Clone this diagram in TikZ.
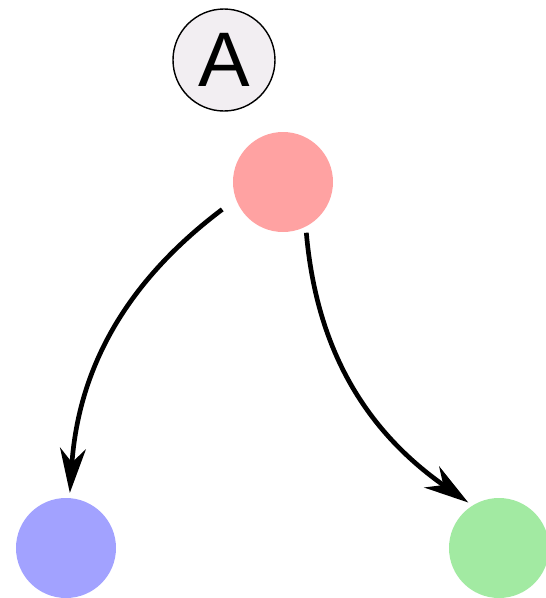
\documentclass[tikz,border=0pt]{standalone}
\usepackage{fontspec}
\setsansfont{Liberation Sans}
\usetikzlibrary{arrows.meta, positioning}

\definecolor{startred}{RGB}{255,162,162}
\definecolor{leftblue}{RGB}{162,162,255}
\definecolor{rightgreen}{RGB}{162,234,162}
\definecolor{labelgray}{RGB}{242,238,242}

\tikzset{
  dot/.style={circle, minimum size=3cm, inner sep=0pt},
  tag/.style={circle, draw=black, line width=1.2pt, fill=labelgray,
    minimum size=3.06cm, inner sep=0pt,
    font=\sffamily\fontsize{66}{70}\selectfont},
  link/.style={-{Stealth[length=38pt, width=22pt, inset=12pt]},
    line width=4pt}
}

\begin{document}
\begin{tikzpicture}
  \useasboundingbox (-8.49,-12.48) rectangle (7.89,5.46);
  % states
  \node[dot, fill=startred] (red) at (0,0) {};
  \node[dot, fill=leftblue] (blue) at (-6.51,-10.98) {};
  \node[dot, fill=rightgreen] (green) at (6.48,-10.98) {};
  % label
  \node[tag] (tagA) at (-1.77,3.66) {A};
  % moves
  \draw[link, shorten <=0.51cm, shorten >=0.15cm]
    (red.200) to[out=217, in=86] (blue.86);
  \draw[link, shorten <=0.18cm, shorten >=0.15cm]
    (red.297) to[out=275, in=145] (green.122);
\end{tikzpicture}
\end{document}
